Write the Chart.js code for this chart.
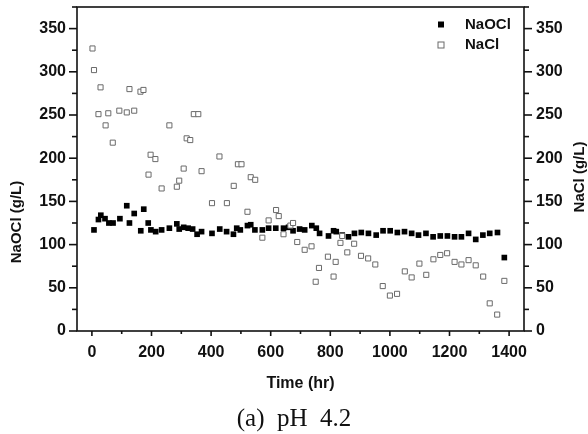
<!DOCTYPE html>
<html>
<head>
<meta charset="utf-8">
<script src="https://cdn.jsdelivr.net/npm/chart.js@4.4.1/dist/chart.umd.min.js"></script>
<style>
  html, body { margin: 0; padding: 0; background: #fff; }
</style>
</head>
<body>
<canvas id="chart" width="588" height="434"></canvas>
<script>
'use strict';

// ── Data ───────────────────────────────────────────────────
const hoursNaOCl = [7, 22, 30, 44, 57, 71, 94, 117, 126, 142, 164, 174, 189, 198, 214, 234, 260, 285, 293, 308,
  323, 338, 353, 368, 403, 429, 452, 475, 486, 498, 522, 533, 547, 572, 593, 617, 643, 660, 675, 697,
  714, 738, 753, 764, 794, 811, 820, 840, 861, 881, 904, 928, 954, 977, 1001, 1025, 1049, 1073, 1096, 1121,
  1145, 1169, 1193, 1217, 1240, 1264, 1288, 1312, 1335, 1361, 1384];
const naocl = [117, 129, 134, 130, 125, 125, 130, 145, 125, 136, 116, 141, 125, 117, 115, 117, 119, 124, 118, 120,
  119, 118, 112, 115, 113, 118, 115, 112, 119, 117, 122, 123, 117, 117, 119, 119, 119, 120, 116, 118,
  117, 122, 119, 113, 110, 116, 115, 111, 109, 113, 114, 113, 111, 116, 116, 114, 115, 113, 111, 113,
  109, 110, 110, 109, 109, 113, 106, 111, 113, 114, 85];

const hoursNaCl = [2, 7, 22, 29, 46, 55, 70, 92, 117, 126, 142, 163, 173, 190, 197, 213, 234, 260, 285, 293,
  308, 318, 330, 342, 357, 368, 403, 428, 453, 476, 490, 502, 522, 533, 548, 572, 593, 618, 627, 643,
  666, 675, 689, 714, 737, 751, 762, 792, 811, 818, 834, 840, 857, 880, 903, 927, 951, 976, 1000, 1024,
  1050, 1073, 1099, 1122, 1146, 1169, 1192, 1217, 1240, 1264, 1288, 1313, 1335, 1360, 1384];
const nacl = [327, 302, 251, 282, 238, 252, 218, 255, 253, 280, 255, 277, 279, 181, 204, 199, 165, 238, 167, 174,
  188, 223, 221, 251, 251, 185, 148, 202, 148, 168, 193, 193, 138, 178, 175, 108, 128, 140, 133, 112,
  122, 125, 103, 94, 98, 57, 73, 86, 63, 80, 102, 110, 91, 101, 87, 84, 77, 52, 41, 43,
  69, 62, 78, 65, 83, 88, 90, 80, 77, 82, 76, 63, 32, 19, 58];

const xTicks = [0, 200, 400, 600, 800, 1000, 1200, 1400];
const yTicks = [0, 50, 100, 150, 200, 250, 300, 350];

const xTitle = 'Time (hr)';
const yLeftTitle = 'NaOCl (g/L)';
const yRightTitle = 'NaCl (g/L)';
const caption = '(a)  pH  4.2';

// ── Styling ───────────────────────────────────────────────
const ink = '#111';
const sansFamily = 'Liberation Sans, Arial, sans-serif';
const tickFont = { family: sansFamily, size: 16, weight: 'bold' };

const toPoints = (xs, ys) => xs.map((x, i) => ({ x: x, y: ys[i] }));
const fixedTicks = (values) => (scale) => { scale.ticks = values.map(v => ({ value: v })); };
const noLabelPadding = (s) => {
    s.paddingTop = 0;
    s.paddingBottom = 0;
    s.paddingLeft = 0;
    s.paddingRight = 0;
};

// frame, tick marks (major + minor), vertical titles and legend
const decorations = {
    id: 'decorations',
    afterDraw(chart) {
        const { ctx, chartArea: a, scales } = chart;
        ctx.save();
        ctx.strokeStyle = ink;
        ctx.lineWidth = 1.6;
        ctx.strokeRect(a.left, a.top, a.right - a.left, a.bottom - a.top);

        const line = (x1, y1, x2, y2) => {
            ctx.beginPath();
            ctx.moveTo(x1, y1);
            ctx.lineTo(x2, y2);
            ctx.stroke();
        };

        // y ticks: major every 50, minor in between
        const yStep = yTicks[1] - yTicks[0];
        for (let v = 0; v <= scales.y.max; v += yStep / 2) {
            const len = v % yStep === 0 ? 8 : 5;
            const yl = scales.y.getPixelForValue(v);
            const yr = scales.y1.getPixelForValue(v);
            line(a.left - len, yl, a.left, yl);
            line(a.right, yr, a.right + len, yr);
        }
        // x ticks: major every 200, minor in between
        const xStep = xTicks[1] - xTicks[0];
        for (let v = xTicks[0]; v <= xTicks[xTicks.length - 1]; v += xStep / 2) {
            const x = scales.x.getPixelForValue(v);
            line(x, a.bottom, x, a.bottom + (v % xStep === 0 ? 5 : 3));
        }

        // vertical axis titles (both read bottom-to-top)
        ctx.fillStyle = ink;
        ctx.font = 'bold 15px ' + sansFamily;
        ctx.textAlign = 'center';
        ctx.textBaseline = 'middle';
        [[yLeftTitle, 16.5, 222], [yRightTitle, 580, 177]].forEach(([t, x, y]) => {
            ctx.save();
            ctx.translate(x, y);
            ctx.rotate(-Math.PI / 2);
            ctx.fillText(t, 0, 0);
            ctx.restore();
        });

        // legend, top right inside the plot
        ctx.textAlign = 'left';
        chart.data.datasets.forEach((ds, i) => {
            const y = 24.5 + i * 20.5;
            const s = 6;
            ctx.fillStyle = ds.backgroundColor;
            ctx.fillRect(441 - s / 2, y - s / 2, s, s);
            if (ds.borderWidth > 0) {
                ctx.strokeStyle = ds.borderColor;
                ctx.lineWidth = ds.borderWidth;
                ctx.strokeRect(441 - s / 2, y - s / 2, s, s);
            }
            ctx.fillStyle = ink;
            ctx.fillText(ds.label, 465, y);
        });
        ctx.restore();
    }
};

const sideScale = (position, width, padding) => ({
    type: 'linear',
    position: position,
    min: 0,
    max: 375,
    afterBuildTicks: fixedTicks(yTicks),
    afterFit: (s) => { s.width = width; noLabelPadding(s); },
    grid: { display: false, drawTicks: false },
    border: { display: false },
    ticks: { color: ink, font: tickFont, padding: padding, autoSkip: false, callback: (v) => String(v) },
});

new Chart(document.getElementById('chart'), {
    type: 'scatter',
    data: {
        datasets: [
            {
                label: 'NaOCl',
                data: toPoints(hoursNaOCl, naocl),
                yAxisID: 'y',
                pointStyle: 'rect',
                pointRadius: 4,
                backgroundColor: '#000',
                borderColor: '#000',
                borderWidth: 0,
                order: 1,
            },
            {
                label: 'NaCl',
                data: toPoints(hoursNaCl, nacl),
                yAxisID: 'y1',
                pointStyle: 'rect',
                pointRadius: 3.6,
                backgroundColor: '#fff',
                borderColor: '#6a6a6a',
                borderWidth: 1,
                order: 0,
            },
        ],
    },
    options: {
        responsive: false,
        animation: false,
        layout: { padding: { top: 7, left: 0, right: 0, bottom: 0 } },
        plugins: {
            legend: { display: false },
            tooltip: { enabled: false },
            title: {
                display: true,
                position: 'bottom',
                text: caption,
                color: ink,
                font: { family: 'Liberation Serif, Times New Roman, serif', size: 25, weight: 'normal' },
                padding: { top: 6, bottom: 0 },
            },
        },
        scales: {
            x: {
                type: 'linear',
                min: -50,
                max: 1450,
                afterBuildTicks: fixedTicks(xTicks),
                afterFit: (s) => { s.height = 67; noLabelPadding(s); },
                grid: { display: false, drawTicks: false },
                border: { display: false },
                ticks: { color: ink, font: tickFont, padding: 12, maxRotation: 0, autoSkip: false, callback: (v) => String(v) },
                title: { display: true, text: xTitle, color: ink, font: { family: sansFamily, size: 16, weight: 'bold' }, padding: { top: 0, bottom: 5 } },
            },
            y: sideScale('left', 77, 11),
            y1: sideScale('right', 64, 12),
        },
    },
    plugins: [decorations],
});
</script>
</body>
</html>
